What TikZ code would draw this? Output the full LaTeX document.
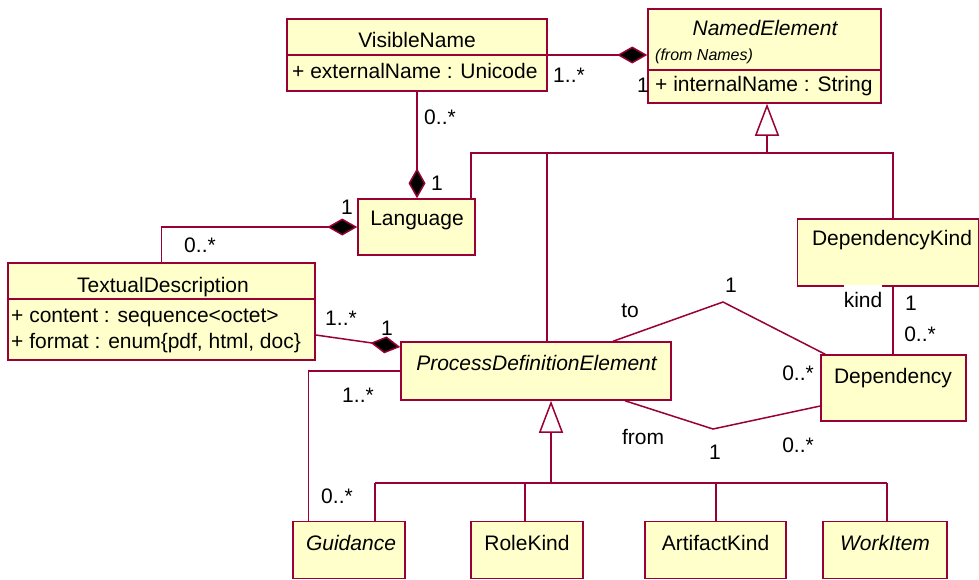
\documentclass[tikz,border=0pt]{standalone}
\usepackage{fontspec}
\setmainfont{Liberation Sans}
\usetikzlibrary{arrows.meta,calc}
\definecolor{umlline}{RGB}{153,0,51}
\definecolor{umlfill}{RGB}{255,255,204}
\begin{document}
\begin{tikzpicture}
[x=1pt,y=-1pt,
  classdecorate/.style={shape=rectangle,draw=umlline,fill=umlfill,line width=1.5pt,inner sep=0pt},%
  linedecorate/.style={draw=umlline,line width=1.5pt},%
  compdecorate/.style={linedecorate,-{Diamond[length=30pt,width=17pt,fill=black]}},%
  gendecorate/.style={linedecorate,-{Triangle[length=32pt,width=24pt,fill=white]}},%
  textdecorate/.style={inner sep=0pt,font=\fontsize{21}{25}\selectfont},%
  smalldecorate/.style={inner sep=0pt,font=\fontsize{16}{19}\selectfont\itshape}]
\useasboundingbox (0,0) rectangle (979,579);
%% classes or boxes
\foreach \nodename/\x/\y/\w/\h in {
  vis/417/55/260/72, named/764.5/56/233/94, lang/416.5/227/117/56,
  txt/161.5/311.5/307/97, depkind/888/252.5/181/67, dep/893.5/388/145/66,
  pde/536/371/270/58, guid/349/550/112/57, role/527/550/112/57,
  art/715.5/550/141/57, work/885/550/124/57}
{
  \node (\nodename) at (\x,\y) [classdecorate,minimum width=\w,minimum height=\h] {};
}
\draw[linedecorate] (vis.west) -- (vis.east);
\draw[linedecorate] ($(named.west)+(0,14)$) -- ($(named.east)+(0,14)$);
\draw[linedecorate] ($(txt.west)+(0,-12.5)$) -- ($(txt.east)+(0,-12.5)$);
%% class names and attributes
\foreach \nodename/\x/\y/\shape/\caption in {
  vis-name/417/47/\upshape/VisibleName, named-name/765/35/\itshape/NamedElement,
  lang-name/417/225/\upshape/Language, txt-name/163/292/\upshape/TextualDescription,
  depkind-name/892/245/\upshape/DependencyKind, dep-name/893/383/\upshape/Dependency,
  pde-name/536.5/370/\itshape/ProcessDefinitionElement, guid-name/351/550/\itshape/Guidance,
  role-name/527/550/\upshape/RoleKind, art-name/715.5/550/\upshape/ArtifactKind,
  work-name/885/550/\itshape/WorkItem}
{
  \node (\nodename) at (\x,\y) [textdecorate,anchor=base] {\shape\caption};
}
\foreach \nodename/\x/\y/\caption in {
  vis-attr/292/78/{+ externalName : Unicode}, named-attr/655/91/{+ internalName : String},
  txt-attr1/11/322/{+ content : sequence<octet>}, txt-attr2/11/348/{+ format : enum\{pdf, html, doc\}}}
{
  \node (\nodename) at (\x,\y) [textdecorate,anchor=base west] {\caption};
}
\node (named-from) at (655,60) [smalldecorate,anchor=base west] {(from Names)};
%% generalizations
\coordinate (named-gen) at (767,153);
\coordinate (lang-gen) at (471,153);
\coordinate (pde-up) at (547,153);
\coordinate (depkind-gen) at (893,153);
\draw[gendecorate] (named-gen) -- (named-gen |- named.south);
\draw[linedecorate] (lang-gen |- lang.north) -- (lang-gen) -- (depkind-gen) -- (depkind-gen |- depkind.north);
\draw[linedecorate] (pde-up) -- (pde-up |- pde.north);
\coordinate (pde-gen) at (551,483);
\draw[gendecorate] (pde-gen) -- (pde-gen |- pde.south);
\foreach \nodename/\x in {guid/375, role/525, art/716, work/887}
{
  \coordinate (\nodename-top) at (\x,483);
  \draw[linedecorate] (\nodename-top) -- (\nodename-top |- \nodename.north);
}
\draw[linedecorate] (guid-top) -- (work-top);
%% compositions
\draw[compdecorate] (vis.east) -- (vis.east -| named.west);
\draw[compdecorate] (vis.south) -- (vis.south |- lang.north);
\draw[compdecorate] (txt.north) |- (lang.west);
\draw[compdecorate] ($(txt.east)+(0,23.5)$) -- ($(pde.west)+(0,-24)$);
%% associations
\coordinate (to-bend) at (723,302);
\coordinate (from-bend) at (713,429);
\draw[linedecorate] (pde.west) -| ($(guid.north west)+(16,0)$);
\draw[linedecorate] ($(pde.north)+(77,0)$) -- (to-bend) -- ($(dep.north west)+(5,0)$);
\draw[linedecorate] ($(pde.south)+(89,0)$) -- (from-bend) -- ($(dep.west)+(0,18)$);
\draw[linedecorate] (depkind-gen |- depkind.south) -- (depkind-gen |- dep.north);
%% multiplicities and roles
\foreach \nodename/\x/\y/\caption in {
  m1/569/75/{1..*}, m2/643/85/{1}, m3/440/117/{0..*}, m4/437/183/{1},
  m5/347/207/{1}, m6/200/245/{0..*}, m7/341/318/{1..*}, m8/387/328/{1},
  m9/358/395/{1..*}, m10/337/496/{0..*}, r1/630/311/{to}, m11/731/285/{1},
  m12/798/373/{0..*}, r2/643/437/{from}, m13/715/452/{1}, m14/798/445/{0..*},
  m15/911/303/{1}, m16/920/334/{0..*}}
{
  \node (\nodename) at (\x,\y) [textdecorate] {\caption};
}
\node (kind) at (863,300) [textdecorate,fill=white,inner ysep=7.5pt] {kind};
\end{tikzpicture}
\end{document}
